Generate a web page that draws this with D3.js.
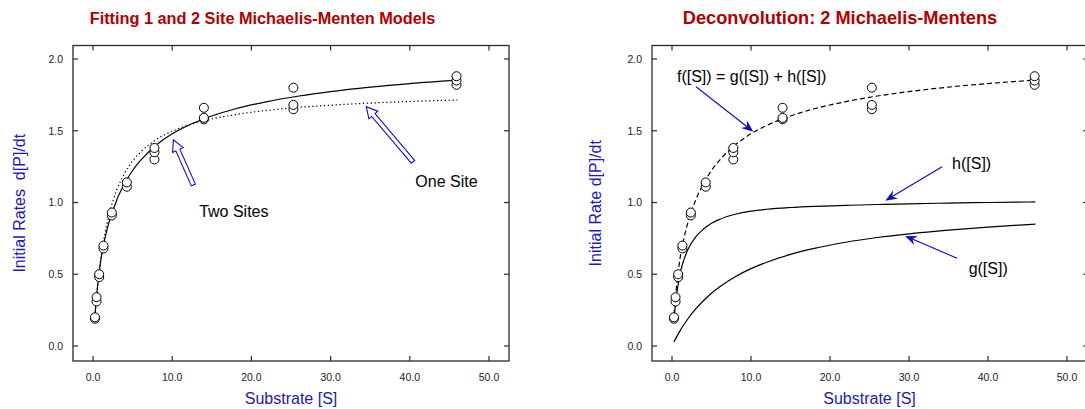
<!DOCTYPE html>
<html>
<head>
<meta charset="utf-8">
<script src="https://cdn.jsdelivr.net/npm/d3@7"></script>
<style>
  html, body { margin: 0; padding: 0; background: #fff; }
  svg { display: block; font-family: Arial, "Liberation Sans", Helvetica, sans-serif; }
</style>
</head>
<body>
<svg id="chart" width="1085" height="409"></svg>
<script>
// ---------------- data ----------------
const substrate = [0.25, 0.25, 0.45, 0.45, 0.78, 0.78, 1.32, 1.32, 2.38, 2.38, 4.27, 4.27,
                   7.76, 7.76, 7.76, 14, 14, 14, 25.3, 25.3, 25.3, 45.9, 45.9, 45.9];
const rates     = [0.19, 0.20, 0.31, 0.34, 0.48, 0.50, 0.68, 0.70, 0.91, 0.93, 1.11, 1.14,
                   1.30, 1.35, 1.38, 1.58, 1.59, 1.66, 1.65, 1.68, 1.80, 1.82, 1.85, 1.88];

const curveS     = [0.25, 0.5, 0.75, 1, 1.5, 2, 3, 4, 5, 6, 8, 10, 12, 15, 18, 22, 26, 30, 35, 40, 46];
const twoSiteFit = [0.218, 0.375, 0.500, 0.604, 0.748, 0.858, 1.018, 1.132, 1.223, 1.293, 1.401,
                    1.479, 1.537, 1.603, 1.653, 1.703, 1.742, 1.773, 1.804, 1.829, 1.853];
const oneSiteFit = [0.205, 0.367, 0.500, 0.610, 0.781, 0.909, 1.087, 1.205, 1.289, 1.351, 1.439,
                    1.497, 1.539, 1.582, 1.613, 1.642, 1.663, 1.678, 1.693, 1.704, 1.714];
const gFit       = [0.028, 0.055, 0.080, 0.104, 0.148, 0.188, 0.258, 0.317, 0.368, 0.411, 0.483,
                    0.539, 0.584, 0.638, 0.680, 0.723, 0.756, 0.782, 0.808, 0.829, 0.849];
const hFit       = [0.190, 0.320, 0.420, 0.500, 0.600, 0.670, 0.760, 0.815, 0.855, 0.882, 0.918,
                    0.940, 0.953, 0.965, 0.973, 0.980, 0.986, 0.991, 0.996, 1.000, 1.004];

const xTicks = [0, 10, 20, 30, 40, 50];
const yTicks = [0, 0.5, 1.0, 1.5, 2.0];
const titles = ["Fitting 1 and 2 Site Michaelis-Menten Models", "Deconvolution: 2 Michaelis-Mentens"];
const xLabels = ["Substrate [S]", "Substrate [S]"];
const yLabels = ["Initial Rates  d[P]/dt", "Initial Rate d[P]/dt"];

// ---------------- layout ----------------
const svg = d3.select("#chart");
const TITLE_RED = "#b00000";
const LABEL_BLUE = "#1a1ab4";
const ARROW_BLUE = "#0a0ac8";

const panels = [
  { frame: [73, 509], x0: 93, x1: 489, title: 262.5, titleSize: 16.3, ylab: 19 },
  { frame: [652, 1088], x0: 672, x1: 1067, title: 840, titleSize: 18.2, ylab: 595 }
];
const frameTop = 45.5, frameBottom = 361;

function makePanel(p, idx) {
  const x = d3.scaleLinear().domain([0, 50]).range([p.x0, p.x1]);
  const y = d3.scaleLinear().domain([0, 2]).range([346, 59]);
  const g = svg.append("g");

  // title
  g.append("text").attr("x", p.title).attr("y", 24).attr("text-anchor", "middle")
    .attr("font-weight", "bold").attr("font-size", p.titleSize).attr("fill", TITLE_RED)
    .text(titles[idx]);

  // frame
  g.append("rect").attr("x", p.frame[0]).attr("y", frameTop)
    .attr("width", p.frame[1] - p.frame[0]).attr("height", frameBottom - frameTop)
    .attr("fill", "none").attr("stroke", "#2a2a2a").attr("stroke-width", 1.3);

  // inward ticks
  const tk = 5;
  xTicks.forEach(t => {
    g.append("line").attr("x1", x(t)).attr("x2", x(t)).attr("y1", frameBottom).attr("y2", frameBottom - tk)
      .attr("stroke", "#2a2a2a").attr("stroke-width", 1.2);
    g.append("line").attr("x1", x(t)).attr("x2", x(t)).attr("y1", frameTop).attr("y2", frameTop + tk)
      .attr("stroke", "#2a2a2a").attr("stroke-width", 1.2);
    g.append("text").attr("x", x(t)).attr("y", 381).attr("text-anchor", "middle")
      .attr("font-size", 10.5).attr("fill", "#222").text(d3.format(".1f")(t));
  });
  yTicks.forEach(t => {
    g.append("line").attr("x1", p.frame[0]).attr("x2", p.frame[0] + tk).attr("y1", y(t)).attr("y2", y(t))
      .attr("stroke", "#2a2a2a").attr("stroke-width", 1.2);
    g.append("line").attr("x1", p.frame[1]).attr("x2", p.frame[1] - tk).attr("y1", y(t)).attr("y2", y(t))
      .attr("stroke", "#2a2a2a").attr("stroke-width", 1.2);
    g.append("text").attr("x", p.frame[0] - 10).attr("y", y(t) + 3.8).attr("text-anchor", "end")
      .attr("font-size", 10.5).attr("fill", "#222").text(d3.format(".1f")(t));
  });

  // axis labels
  g.append("text").attr("x", (p.x0 + p.x1) / 2).attr("y", 404)
    .attr("text-anchor", "middle").attr("font-size", 16).attr("fill", LABEL_BLUE).text(xLabels[idx]);
  g.append("text").attr("transform", `translate(${p.ylab + 5.5},${(frameTop + frameBottom) / 2}) rotate(-90)`)
    .attr("text-anchor", "middle").attr("font-size", 16).attr("fill", LABEL_BLUE)
    .attr("xml:space", "preserve").style("white-space", "pre").text(yLabels[idx]);

  return { g, x, y };
}

const L = makePanel(panels[0], 0);
const R = makePanel(panels[1], 1);

function drawCurve(P, vals, dash) {
  const line = d3.line().x((d, i) => P.x(curveS[i])).y(d => P.y(d)).curve(d3.curveMonotoneX);
  P.g.append("path").datum(vals).attr("d", line).attr("fill", "none")
    .attr("stroke", "#000").attr("stroke-width", 1.2)
    .attr("stroke-dasharray", dash || null);
}
function drawPoints(P) {
  P.g.selectAll("circle.pt").data(substrate).enter().append("circle")
    .attr("class", "pt").attr("cx", d => P.x(d)).attr("cy", (d, i) => P.y(rates[i]))
    .attr("r", 4.5).attr("fill", "#fff").attr("stroke", "#000").attr("stroke-width", 1);
}

// left panel curves
drawCurve(L, oneSiteFit, "1.3,2.6");
drawCurve(L, twoSiteFit, null);
drawPoints(L);

// right panel curves
drawCurve(R, gFit, null);
drawCurve(R, hFit, null);
drawCurve(R, twoSiteFit, "5,3");
drawPoints(R);

// hollow block arrow (left panel)
function blockArrow(P, tail, tip) {
  const x0 = P.x(tail[0]), y0 = P.y(tail[1]), x1 = P.x(tip[0]), y1 = P.y(tip[1]);
  const len = Math.hypot(x1 - x0, y1 - y0), ang = Math.atan2(y1 - y0, x1 - x0);
  const sw = 2.2, hw = 5.8, hl = 11;
  const pts = [[0, -sw], [len - hl, -sw], [len - hl, -hw], [len, 0], [len - hl, hw], [len - hl, sw], [0, sw]];
  const c = Math.cos(ang), s = Math.sin(ang);
  const poly = pts.map(([u, v]) => [x0 + u * c - v * s, y0 + u * s + v * c]);
  P.g.append("path").attr("d", "M" + poly.map(q => q.join(",")).join("L") + "Z")
    .attr("fill", "#fff").attr("stroke", ARROW_BLUE).attr("stroke-width", 1.1);
}
// thin arrow with filled swept head (right panel)
function thinArrow(P, tail, tip) {
  const x0 = P.x(tail[0]), y0 = P.y(tail[1]), x1 = P.x(tip[0]), y1 = P.y(tip[1]);
  const len = Math.hypot(x1 - x0, y1 - y0), ang = Math.atan2(y1 - y0, x1 - x0);
  const c = Math.cos(ang), s = Math.sin(ang);
  const T = ([u, v]) => [x0 + u * c - v * s, y0 + u * s + v * c];
  P.g.append("line").attr("x1", x0).attr("y1", y0).attr("x2", T([len - 6, 0])[0]).attr("y2", T([len - 6, 0])[1])
    .attr("stroke", ARROW_BLUE).attr("stroke-width", 1.1);
  const head = [[len, 0], [len - 12, -4.8], [len - 8, 0], [len - 12, 4.8]].map(T);
  P.g.append("path").attr("d", "M" + head.map(q => q.join(",")).join("L") + "Z").attr("fill", ARROW_BLUE);
}
function note(P, at, txt) {
  P.g.append("text").attr("x", P.x(at[0])).attr("y", P.y(at[1])).attr("font-size", 16)
    .attr("fill", "#000").text(txt);
}

blockArrow(L, [12.67, 1.122], [10.15, 1.436]);
blockArrow(L, [40.4, 1.284], [34.5, 1.668]);
note(L, [13.4, 0.90], "Two Sites");
note(L, [40.7, 1.108], "One Site");

thinArrow(R, [3.04, 1.807], [10.3, 1.493]);
thinArrow(R, [34.2, 1.249], [27.0, 1.013]);
thinArrow(R, [36.1, 0.611], [29.5, 0.767]);
note(R, [0.63, 1.838], "f([S]) = g([S]) + h([S])");
note(R, [35.45, 1.236], "h([S])");
note(R, [37.55, 0.505], "g([S])");
</script>
</body>
</html>
